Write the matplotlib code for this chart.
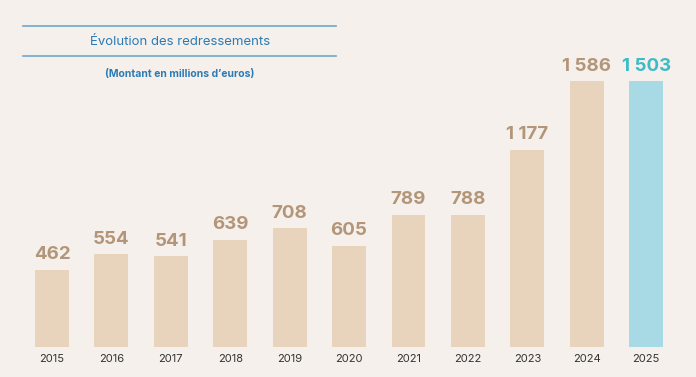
import numpy as np
from matplotlib import pyplot as plt
from matplotlib.lines import Line2D

plt.rcParams["font.family"] = ["Inter", "DejaVu Sans"]

years = ["2015", "2016", "2017", "2018", "2019", "2020", "2021", "2022", "2023", "2024", "2025"]
amounts = [462, 554, 541, 639, 708, 605, 789, 788, 1177, 1586, 1503]
value_labels = ["462", "554", "541", "639", "708", "605", "789", "788", "1 177", "1 586", "1 503"]
# in the source picture the 2025 bar is drawn at the same height as 2024
bar_heights = [462, 554, 541, 639, 708, 605, 789, 788, 1177, 1586, 1586]

BG = "#F5F0EB"
BAR = "#E8D4BC"
BAR_LAST = "#A7DAE4"
LABEL = "#B39679"
LABEL_LAST = "#3BBCC6"
BLUE = "#2C7BB4"

fig = plt.figure(figsize=(6.96, 3.77), dpi=100, facecolor=BG)
ax = fig.add_axes([0, 0, 1, 1])
ax.set_facecolor(BG)

x = np.arange(len(years))
colors = [BAR] * (len(years) - 1) + [BAR_LAST]
ax.bar(x, bar_heights, width=0.57, color=colors)

for i, (h, lab) in enumerate(zip(bar_heights, value_labels)):
    last = i == len(years) - 1
    ax.text(i, h + 38, lab, ha="center", va="bottom", fontsize=13.5,
            fontweight="bold", color=LABEL_LAST if last else LABEL)
    ax.text(i, -40, years[i], ha="center", va="top", fontsize=8, color="#333333")

ax.set_xlim(-0.875, 10.84)
ax.set_ylim(-179, 2069)
ax.axis("off")

# title block
for y in (351, 321):
    fig.add_artist(Line2D([23 / 696, 336 / 696], [y / 377, y / 377],
                          color="#6FA6CC", lw=1.2))
fig.text(180 / 696, 335 / 377, "Évolution des redressements", ha="center", va="center",
         fontsize=9.5, color=BLUE)
fig.text(180 / 696, 303 / 377, "(Montant en millions d’euros)", ha="center", va="center",
         fontsize=7.5, fontweight="bold", color=BLUE)

plt.savefig("out.png", dpi=100, facecolor=BG)
